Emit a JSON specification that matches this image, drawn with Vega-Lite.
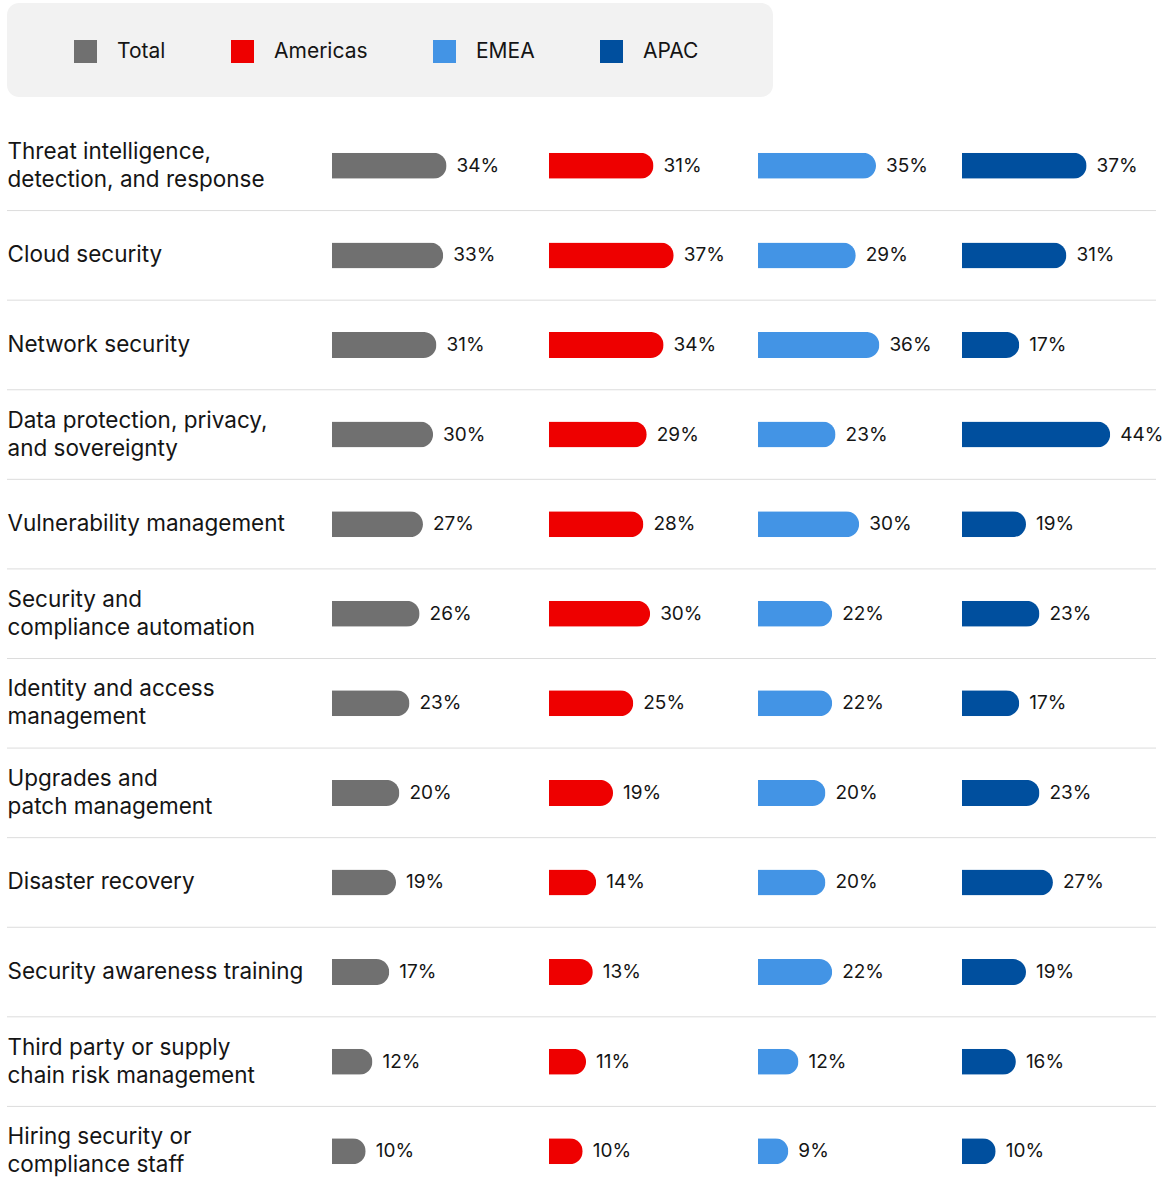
{
  "$schema": "https://vega.github.io/schema/vega-lite/v6.json",
  "padding": {"left": 6, "top": 3, "right": 0, "bottom": 0},
  "background": "white",
  "config": {
    "view": {"stroke": null},
    "font": "Inter",
    "text": {"font": "Inter"}
  },
  "datasets": {
    "bars": [
      {"category": "Threat intelligence,\ndetection, and response", "region": "Total", "value": 0.34},
      {"category": "Cloud security", "region": "Total", "value": 0.33},
      {"category": "Network security", "region": "Total", "value": 0.31},
      {"category": "Data protection, privacy,\nand sovereignty", "region": "Total", "value": 0.30},
      {"category": "Vulnerability management", "region": "Total", "value": 0.27},
      {"category": "Security and\ncompliance automation", "region": "Total", "value": 0.26},
      {"category": "Identity and access\nmanagement", "region": "Total", "value": 0.23},
      {"category": "Upgrades and\npatch management", "region": "Total", "value": 0.20},
      {"category": "Disaster recovery", "region": "Total", "value": 0.19},
      {"category": "Security awareness training", "region": "Total", "value": 0.17},
      {"category": "Third party or supply\nchain risk management", "region": "Total", "value": 0.12},
      {"category": "Hiring security or\ncompliance staff", "region": "Total", "value": 0.10},
      {"category": "Threat intelligence,\ndetection, and response", "region": "Americas", "value": 0.31},
      {"category": "Cloud security", "region": "Americas", "value": 0.37},
      {"category": "Network security", "region": "Americas", "value": 0.34},
      {"category": "Data protection, privacy,\nand sovereignty", "region": "Americas", "value": 0.29},
      {"category": "Vulnerability management", "region": "Americas", "value": 0.28},
      {"category": "Security and\ncompliance automation", "region": "Americas", "value": 0.30},
      {"category": "Identity and access\nmanagement", "region": "Americas", "value": 0.25},
      {"category": "Upgrades and\npatch management", "region": "Americas", "value": 0.19},
      {"category": "Disaster recovery", "region": "Americas", "value": 0.14},
      {"category": "Security awareness training", "region": "Americas", "value": 0.13},
      {"category": "Third party or supply\nchain risk management", "region": "Americas", "value": 0.11},
      {"category": "Hiring security or\ncompliance staff", "region": "Americas", "value": 0.10},
      {"category": "Threat intelligence,\ndetection, and response", "region": "EMEA", "value": 0.35},
      {"category": "Cloud security", "region": "EMEA", "value": 0.29},
      {"category": "Network security", "region": "EMEA", "value": 0.36},
      {"category": "Data protection, privacy,\nand sovereignty", "region": "EMEA", "value": 0.23},
      {"category": "Vulnerability management", "region": "EMEA", "value": 0.30},
      {"category": "Security and\ncompliance automation", "region": "EMEA", "value": 0.22},
      {"category": "Identity and access\nmanagement", "region": "EMEA", "value": 0.22},
      {"category": "Upgrades and\npatch management", "region": "EMEA", "value": 0.20},
      {"category": "Disaster recovery", "region": "EMEA", "value": 0.20},
      {"category": "Security awareness training", "region": "EMEA", "value": 0.22},
      {"category": "Third party or supply\nchain risk management", "region": "EMEA", "value": 0.12},
      {"category": "Hiring security or\ncompliance staff", "region": "EMEA", "value": 0.09},
      {"category": "Threat intelligence,\ndetection, and response", "region": "APAC", "value": 0.37},
      {"category": "Cloud security", "region": "APAC", "value": 0.31},
      {"category": "Network security", "region": "APAC", "value": 0.17},
      {"category": "Data protection, privacy,\nand sovereignty", "region": "APAC", "value": 0.44},
      {"category": "Vulnerability management", "region": "APAC", "value": 0.19},
      {"category": "Security and\ncompliance automation", "region": "APAC", "value": 0.23},
      {"category": "Identity and access\nmanagement", "region": "APAC", "value": 0.17},
      {"category": "Upgrades and\npatch management", "region": "APAC", "value": 0.23},
      {"category": "Disaster recovery", "region": "APAC", "value": 0.27},
      {"category": "Security awareness training", "region": "APAC", "value": 0.19},
      {"category": "Third party or supply\nchain risk management", "region": "APAC", "value": 0.16},
      {"category": "Hiring security or\ncompliance staff", "region": "APAC", "value": 0.10}
    ]
  },
  "spacing": 24,
  "vconcat": [
    {
      "width": 766,
      "height": 94,
      "view": {"fill": "#f2f2f2", "stroke": null, "cornerRadius": 12},
      "data": {"values": [{"a": 1}]},
      "mark": {"type": "text", "text": ""},
      "encoding": {}
    },
    {
      "spacing": 0,
      "bounds": "flush",
      "hconcat": [
        {
          "width": 325,
          "height": 1075,
          "data": {"name": "bars"},
          "transform": [{"filter": "datum.region == 'Total'"}],
          "mark": {"type": "rule", "color": "#dcdcdc", "strokeWidth": 1},
          "encoding": {
            "y": {
              "field": "category", "type": "nominal", "sort": null, "bandPosition": 1,
              "scale": {"paddingInner": 0, "paddingOuter": 0},
              "axis": {
                "title": null, "domain": false, "ticks": false, "grid": false,
                "labelAlign": "left", "labelPadding": 0, "labelFontSize": 22.5,
                "labelFont": "Inter", "labelColor": "#151515", "labelLimit": 400,
                "labelLineHeight": 28, "labelBaseline": "middle", "minExtent": 0,
                "labelExpr": "split(datum.label, '\\n')",
                "labelOffset": {"condition": {"test": "indexof(datum.value, '\\n') >= 0", "value": -14}, "value": 0}
              }
            }
          }
        },
        {
          "width": 217,
          "height": 1075,
          "data": {"name": "bars"},
          "transform": [{"filter": "datum.region == 'Total'"}],
          "encoding": {
            "y": {"field": "category", "type": "nominal", "sort": null, "axis": null, "scale": {"paddingInner": 0, "paddingOuter": 0}}
          },
          "layer": [
            {
              "mark": {"type": "rule", "color": "#dcdcdc", "strokeWidth": 1},
              "encoding": {"y": {"field": "category", "type": "nominal", "sort": null, "bandPosition": 1, "axis": null}}
            },
            {
              "mark": {"type": "bar", "height": 26, "cornerRadiusEnd": 13},
              "encoding": {
                "x": {"field": "value", "type": "quantitative", "axis": null, "scale": {"domain": [0, 0.644], "nice": false}},
                "color": {
                  "field": "region", "type": "nominal",
                  "scale": {"domain": ["Total", "Americas", "EMEA", "APAC"], "range": ["#707070", "#ee0000", "#4394e5", "#004f9e"]},
                  "legend": {"orient": "none", "legendX": 67, "legendY": 37, "direction": "horizontal", "title": null, "symbolType": "square", "symbolSize": 529, "symbolStrokeWidth": 0, "symbolOpacity": 1, "labelFontSize": 21, "labelFont": "Inter", "labelColor": "#151515", "labelOffset": 20, "columnPadding": 65, "padding": 0}
                }
              }
            },
            {
              "mark": {"type": "text", "align": "left", "dx": 10, "fontSize": 19, "color": "#151515"},
              "encoding": {
                "x": {"field": "value", "type": "quantitative", "axis": null, "scale": {"domain": [0, 0.644], "nice": false}},
                "text": {"field": "value", "type": "quantitative", "format": ".0%"}
              }
            }
          ]
        },
        {
          "width": 209,
          "height": 1075,
          "data": {"name": "bars"},
          "transform": [{"filter": "datum.region == 'Americas'"}],
          "encoding": {
            "y": {"field": "category", "type": "nominal", "sort": null, "axis": null, "scale": {"paddingInner": 0, "paddingOuter": 0}}
          },
          "layer": [
            {
              "mark": {"type": "rule", "color": "#dcdcdc", "strokeWidth": 1},
              "encoding": {"y": {"field": "category", "type": "nominal", "sort": null, "bandPosition": 1, "axis": null}}
            },
            {
              "mark": {"type": "bar", "height": 26, "cornerRadiusEnd": 13},
              "encoding": {
                "x": {"field": "value", "type": "quantitative", "axis": null, "scale": {"domain": [0, 0.62], "nice": false}},
                "color": {
                  "field": "region", "type": "nominal",
                  "scale": {"domain": ["Total", "Americas", "EMEA", "APAC"], "range": ["#707070", "#ee0000", "#4394e5", "#004f9e"]},
                  "legend": {"orient": "none", "legendX": 67, "legendY": 37, "direction": "horizontal", "title": null, "symbolType": "square", "symbolSize": 529, "symbolStrokeWidth": 0, "symbolOpacity": 1, "labelFontSize": 21, "labelFont": "Inter", "labelColor": "#151515", "labelOffset": 20, "columnPadding": 65, "padding": 0}
                }
              }
            },
            {
              "mark": {"type": "text", "align": "left", "dx": 10, "fontSize": 19, "color": "#151515"},
              "encoding": {
                "x": {"field": "value", "type": "quantitative", "axis": null, "scale": {"domain": [0, 0.62], "nice": false}},
                "text": {"field": "value", "type": "quantitative", "format": ".0%"}
              }
            }
          ]
        },
        {
          "width": 204,
          "height": 1075,
          "data": {"name": "bars"},
          "transform": [{"filter": "datum.region == 'EMEA'"}],
          "encoding": {
            "y": {"field": "category", "type": "nominal", "sort": null, "axis": null, "scale": {"paddingInner": 0, "paddingOuter": 0}}
          },
          "layer": [
            {
              "mark": {"type": "rule", "color": "#dcdcdc", "strokeWidth": 1},
              "encoding": {"y": {"field": "category", "type": "nominal", "sort": null, "bandPosition": 1, "axis": null}}
            },
            {
              "mark": {"type": "bar", "height": 26, "cornerRadiusEnd": 13},
              "encoding": {
                "x": {"field": "value", "type": "quantitative", "axis": null, "scale": {"domain": [0, 0.605], "nice": false}},
                "color": {
                  "field": "region", "type": "nominal",
                  "scale": {"domain": ["Total", "Americas", "EMEA", "APAC"], "range": ["#707070", "#ee0000", "#4394e5", "#004f9e"]},
                  "legend": {"orient": "none", "legendX": 67, "legendY": 37, "direction": "horizontal", "title": null, "symbolType": "square", "symbolSize": 529, "symbolStrokeWidth": 0, "symbolOpacity": 1, "labelFontSize": 21, "labelFont": "Inter", "labelColor": "#151515", "labelOffset": 20, "columnPadding": 65, "padding": 0}
                }
              }
            },
            {
              "mark": {"type": "text", "align": "left", "dx": 10, "fontSize": 19, "color": "#151515"},
              "encoding": {
                "x": {"field": "value", "type": "quantitative", "axis": null, "scale": {"domain": [0, 0.605], "nice": false}},
                "text": {"field": "value", "type": "quantitative", "format": ".0%"}
              }
            }
          ]
        },
        {
          "width": 194,
          "height": 1075,
          "data": {"name": "bars"},
          "transform": [{"filter": "datum.region == 'APAC'"}],
          "encoding": {
            "y": {"field": "category", "type": "nominal", "sort": null, "axis": null, "scale": {"paddingInner": 0, "paddingOuter": 0}}
          },
          "layer": [
            {
              "mark": {"type": "rule", "color": "#dcdcdc", "strokeWidth": 1},
              "encoding": {"y": {"field": "category", "type": "nominal", "sort": null, "bandPosition": 1, "axis": null}}
            },
            {
              "mark": {"type": "bar", "height": 26, "cornerRadiusEnd": 13},
              "encoding": {
                "x": {"field": "value", "type": "quantitative", "axis": null, "scale": {"domain": [0, 0.576], "nice": false}},
                "color": {
                  "field": "region", "type": "nominal",
                  "scale": {"domain": ["Total", "Americas", "EMEA", "APAC"], "range": ["#707070", "#ee0000", "#4394e5", "#004f9e"]},
                  "legend": {"orient": "none", "legendX": 67, "legendY": 37, "direction": "horizontal", "title": null, "symbolType": "square", "symbolSize": 529, "symbolStrokeWidth": 0, "symbolOpacity": 1, "labelFontSize": 21, "labelFont": "Inter", "labelColor": "#151515", "labelOffset": 20, "columnPadding": 65, "padding": 0}
                }
              }
            },
            {
              "mark": {"type": "text", "align": "left", "dx": 10, "fontSize": 19, "color": "#151515"},
              "encoding": {
                "x": {"field": "value", "type": "quantitative", "axis": null, "scale": {"domain": [0, 0.576], "nice": false}},
                "text": {"field": "value", "type": "quantitative", "format": ".0%"}
              }
            }
          ]
        }
      ]
    }
  ]
}
